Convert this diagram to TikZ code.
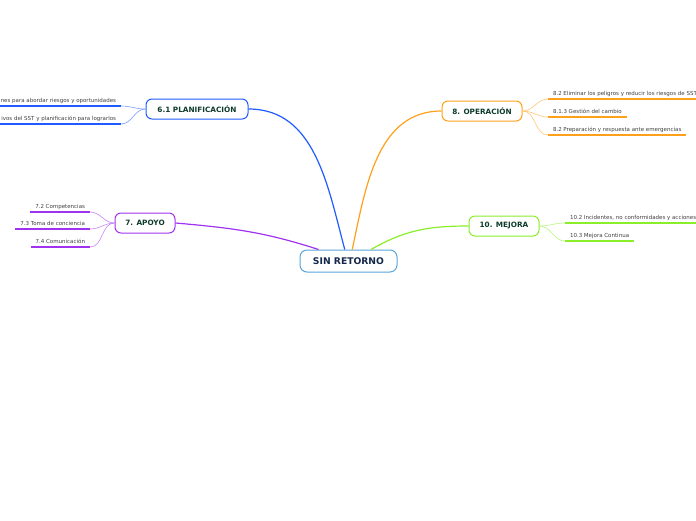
\documentclass[tikz,border=0pt]{standalone}
\usepackage{fontspec}
\setmainfont{DejaVu Sans}
\usepackage{xcolor}
\definecolor{srblue}{HTML}{1F5BFF}
\definecolor{srorange}{HTML}{FFA01A}
\definecolor{srpurple}{HTML}{A033F0}
\definecolor{srgreen}{HTML}{8AEE2A}
\definecolor{srroot}{HTML}{5AA5DA}
\definecolor{srnavy}{HTML}{14284B}
\definecolor{srtext}{HTML}{0E3B2C}

\begin{document}
\begin{tikzpicture}[
  x=1pt, y=-1pt,
  rootbox/.style={draw=srroot, line width=1pt, rounded corners=7pt, fill=white,
    minimum width=97pt, minimum height=22pt, inner sep=0pt,
    font=\fontsize{9.2}{10}\selectfont\bfseries, text=srnavy},
  topic/.style={draw, line width=1pt, rounded corners=6pt, fill=white,
    minimum height=20pt, inner sep=0pt,
    font=\fontsize{7.3}{8}\selectfont\bfseries, text=srtext},
  sub/.style={font=\fontsize{5.5}{6}\selectfont, text=black!75, inner xsep=5pt,
    inner ysep=4pt, text depth=0pt, outer sep=0pt},
  uline/.style={line width=1.5pt},
  branch/.style={line width=1.2pt},
  twig/.style={line width=0.6pt}
]
  \useasboundingbox (0,0) rectangle (696,520);

  % --- Central topic ---
  \node[rootbox] (root) at (348.5,261) {SIN RETORNO};

  % --- Main topics ---
  \node[topic, draw=srblue, minimum width=102pt] (plan) at (197,109) {6.1 PLANIFICACIÓN};
  \node[topic, draw=srorange, minimum width=80pt] (oper) at (482,111) {8. OPERACIÓN};
  \node[topic, draw=srpurple, minimum width=60pt] (apoyo) at (145,223) {7. APOYO};
  \node[topic, draw=srgreen, minimum width=70pt] (mejora) at (504,226) {10. MEJORA};

  % --- Sub topics: planificacion ---
  \node[sub, anchor=south east] (p1) at (121,106) {nes para abordar riesgos y oportunidades};
  \node[sub, anchor=south east] (p2) at (121,124) {ivos del SST y planificación para lograrlos};

  % --- Sub topics: operacion ---
  \node[sub, anchor=south west] (o1) at (548,99) {8.2 Eliminar los peligros y reducir los riesgos de SST};
  \node[sub, anchor=south west] (o2) at (548,117) {8.1.3 Gestión del cambio};
  \node[sub, anchor=south west] (o3) at (548,135) {8.2 Preparación y respuesta ante emergencias};

  % --- Sub topics: apoyo ---
  \node[sub, anchor=south east] (a1) at (90,212) {7.2 Competencias};
  \node[sub, anchor=south east] (a2) at (90,229) {7.3 Toma de conciencia};
  \node[sub, anchor=south east] (a3) at (90,247) {7.4 Comunicación};

  % --- Sub topics: mejora ---
  \node[sub, anchor=south west] (m1) at (565,223) {10.2 Incidentes, no conformidades y acciones};
  \node[sub, anchor=south west] (m2) at (565,241) {10.3 Mejora Continua};

  % --- Underlines ---
  \foreach \n in {p1,p2} \draw[uline, srblue] (\n.south west) -- (\n.south east);
  \foreach \n in {o1,o2,o3} \draw[uline, srorange] (\n.south west) -- (\n.south east);
  \foreach \n in {a1,a2,a3} \draw[uline, srpurple] (\n.south west) -- (\n.south east);
  \foreach \n in {m1,m2} \draw[uline, srgreen] (\n.south west) -- (\n.south east);

  % --- Branches from the root ---
  \draw[branch, srblue] (root.108) to[out=105, in=0] (plan.east);
  \draw[branch, srorange] (root.72) to[out=78, in=180] (oper.west);
  \draw[branch, srpurple] (root.159) to[out=162, in=-5] (apoyo.east);
  \draw[branch, srgreen] (root.27) to[out=30, in=180] (mejora.west);

  % --- Twigs to the sub topics ---
  \foreach \n in {p1,p2} \draw[twig, srblue!60] (plan.west) to[out=180, in=0] (\n.south east);
  \foreach \n in {o1,o2,o3} \draw[twig, srorange!60] (oper.east) to[out=0, in=180] (\n.south west);
  \foreach \n in {a1,a2,a3} \draw[twig, srpurple!60] (apoyo.west) to[out=180, in=0] (\n.south east);
  \foreach \n in {m1,m2} \draw[twig, srgreen!60] (mejora.east) to[out=0, in=180] (\n.south west);
\end{tikzpicture}
\end{document}
